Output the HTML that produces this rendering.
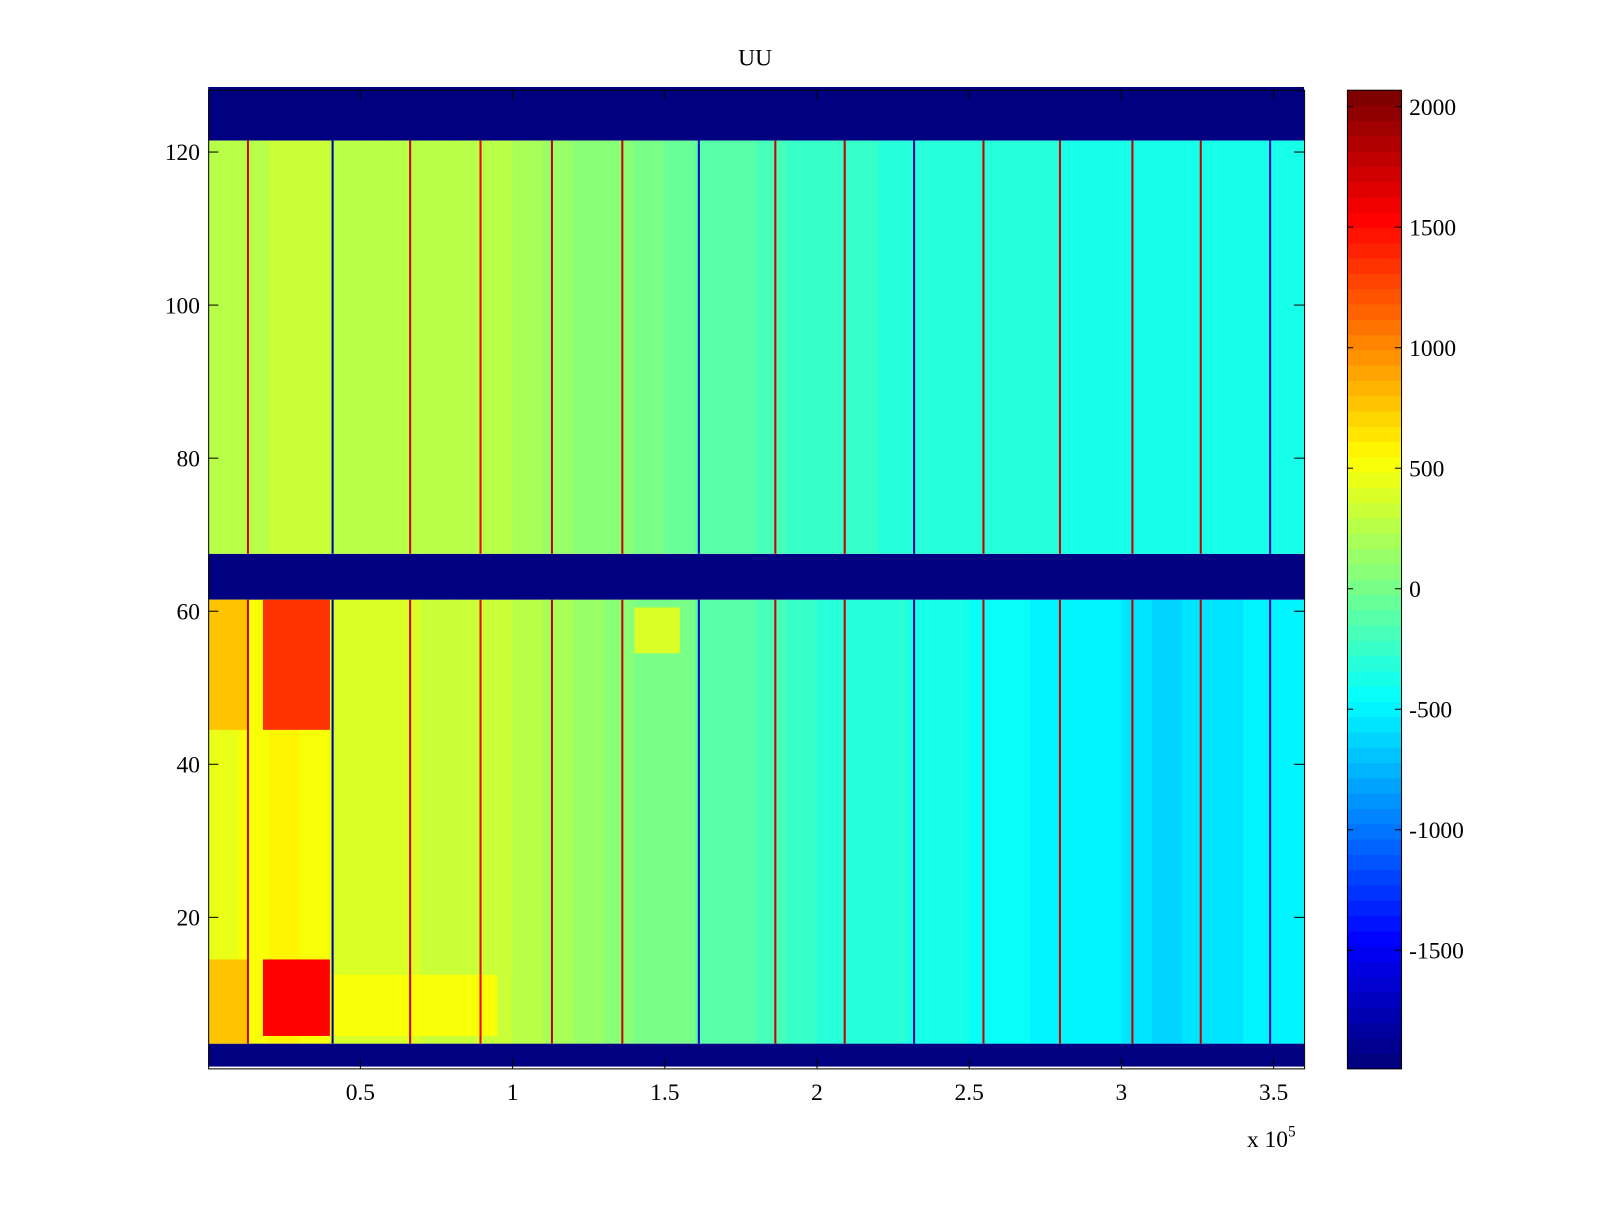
<!DOCTYPE html>
<html><head><meta charset="utf-8"><style>
body{margin:0;background:#fff}
svg text{font-family:"Liberation Serif",serif;font-size:23px;fill:#000}
</style></head><body>
<svg id="chart" width="1600" height="1200" viewBox="0 0 1568 1176" xmlns="http://www.w3.org/2000/svg">
<rect width="1568" height="1176" fill="#fff"/>
<text x="740" y="64" text-anchor="middle">UU</text>
<g id="cells"></g>
<g id="axes"></g>
<g id="cbar"></g>
<text x="1222" y="1124">x 10<tspan dy="-10" font-size="15">5</tspan></text>
</svg>
<script>
const xBinEdges = [0,10000,20000,30000,40000,50000,60000,70000,80000,90000,100000,110000,120000,130000,140000,150000,160000,170000,180000,190000,200000,210000,220000,230000,240000,250000,260000,270000,280000,290000,300000,310000,320000,330000,340000,350000,360000];
const upperValues = [250,280,300,300,280,260,250,270,280,250,200,150,100,50,0,-50,-100,-150,-200,-220,-250,-250,-280,-280,-300,-300,-320,-330,-350,-350,-380,-380,-380,-380,-380,-350];
const lowerValues = [450,500,550,500,400,380,380,350,350,300,250,200,150,80,30,-20,-100,-150,-200,-250,-280,-300,-300,-350,-380,-420,-450,-480,-520,-520,-560,-600,-580,-560,-520,-480];
const bands = [[68,121,'upper'],[4,61,'lower']];
const emptyBands = [[122,128],[62,67],[1,3]];
const hotX0 = [18000,18000,0,0,140000,40000];
const hotX1 = [40000,40000,13000,13000,155000,95000];
const hotY0 = [45,5,4,45,55,5];
const hotY1 = [61,14,14,61,60,12];
const hotV = [1350,1550,800,750,400,500];
const stripeX = [13070,40880,66350,89470,112930,136050,161180,186310,209100,231890,254680,279810,303610,326060,348840];
const stripeV = [1700,-1800,1700,1600,1800,1700,-1700,1700,1800,-1800,1800,1700,1800,1800,-1700];
const xTicks = [0.5,1,1.5,2,2.5,3,3.5];
const yTicks = [20,40,60,80,100,120];
const cTicks = [-1500,-1000,-500,0,500,1000,1500,2000];
const CMIN=-1990, CMAX=2070;
const X0=204,X1=1278,Y0=88,Y1=1047;
const xs = v => X0 + v/360000*(X1-X0);
const ys = v => 1049 - v*7.5;
const NS='http://www.w3.org/2000/svg';
function jet(v){let t=(v-CMIN)/(CMAX-CMIN);t=Math.max(0,Math.min(1,Math.floor(t*63.999)/63));
 const f=x=>Math.max(0,Math.min(1,1.5-Math.abs(4*t-x)));
 return `rgb(${Math.round(255*f(3))},${Math.round(255*f(2))},${Math.round(255*f(1))})`;}
function rect(g,x,y,w,h,fill){const r=document.createElementNS(NS,'rect');r.setAttribute('x',x);r.setAttribute('y',y);r.setAttribute('width',w);r.setAttribute('height',h);r.setAttribute('fill',fill);g.appendChild(r);return r;}
const cg=document.getElementById('cells');
emptyBands.forEach(b=>{const r=rect(cg,X0,ys(b[1]+0.5),X1-X0,ys(b[0]-0.5)-ys(b[1]+0.5),jet(CMIN));

});
bands.forEach(b=>{const vals=b[2]==='upper'?upperValues:lowerValues;
 for(let i=0;i<vals.length;i++){const x=xs(xBinEdges[i]),w=xs(xBinEdges[i+1])-x+0.5;
  const r=rect(cg,x,ys(b[1]+0.5),w,ys(b[0]-0.5)-ys(b[1]+0.5),jet(vals[i]));
  
  }});
for(let i=0;i<hotV.length;i++){const r=rect(cg,xs(hotX0[i]),ys(hotY1[i]+0.5),xs(hotX1[i])-xs(hotX0[i]),ys(hotY0[i]-0.5)-ys(hotY1[i]+0.5),jet(hotV[i]));
 
 }
stripeX.forEach((sx,i)=>{bands.forEach(b=>{const r=rect(cg,xs(sx)-1,ys(b[1]+0.5),2,ys(b[0]-0.5)-ys(b[1]+0.5),jet(stripeV[i]));
 
 });});
const ag=document.getElementById('axes');
function line(g,x1,y1,x2,y2){const l=document.createElementNS(NS,'line');l.setAttribute('x1',x1);l.setAttribute('y1',y1);l.setAttribute('x2',x2);l.setAttribute('y2',y2);l.setAttribute('stroke','#000');l.setAttribute('stroke-width','1');g.appendChild(l);}
function text(g,x,y,s,anchor,name){const t=document.createElementNS(NS,'text');t.setAttribute('x',x);t.setAttribute('y',y);t.setAttribute('text-anchor',anchor);t.textContent=s;
 
 
 g.appendChild(t);}
const fr=rect(ag,X0+0.5,Y0+0.5,X1-X0,Y1-Y0,'none');fr.setAttribute('stroke','#000');
xTicks.forEach(v=>{const x=xs(v*1e5);line(ag,x,Y1,x,Y1-10);line(ag,x,Y0,x,Y0+10);text(ag,x,1078,String(v),'middle','x-tick-label');});
yTicks.forEach(v=>{const y=ys(v);line(ag,X0,y,X0+10,y);line(ag,X1,y,X1-10,y);text(ag,X0-8,y+8,String(v),'end','y-tick-label');});
const bg=document.getElementById('cbar');
const CB0=1320,CB1=1373;const cy=v=>Y1-(v-CMIN)/(CMAX-CMIN)*(Y1-Y0);
for(let k=0;k<64;k++){const v0=CMIN+k*(CMAX-CMIN)/64,v1=CMIN+(k+1)*(CMAX-CMIN)/64;
 rect(bg,CB0,cy(v1),CB1-CB0,cy(v0)-cy(v1)+0.6,jet((v0+v1)/2));}
const cf=rect(bg,CB0+0.5,Y0+0.5,CB1-CB0,Y1-Y0,'none');cf.setAttribute('stroke','#000');
cTicks.forEach(v=>{const y=cy(v);line(bg,CB0,y,CB0+6,y);line(bg,CB1,y,CB1-6,y);text(bg,1381,y+8,String(v),'start','colorbar-tick-label');});
</script>
</body></html>
